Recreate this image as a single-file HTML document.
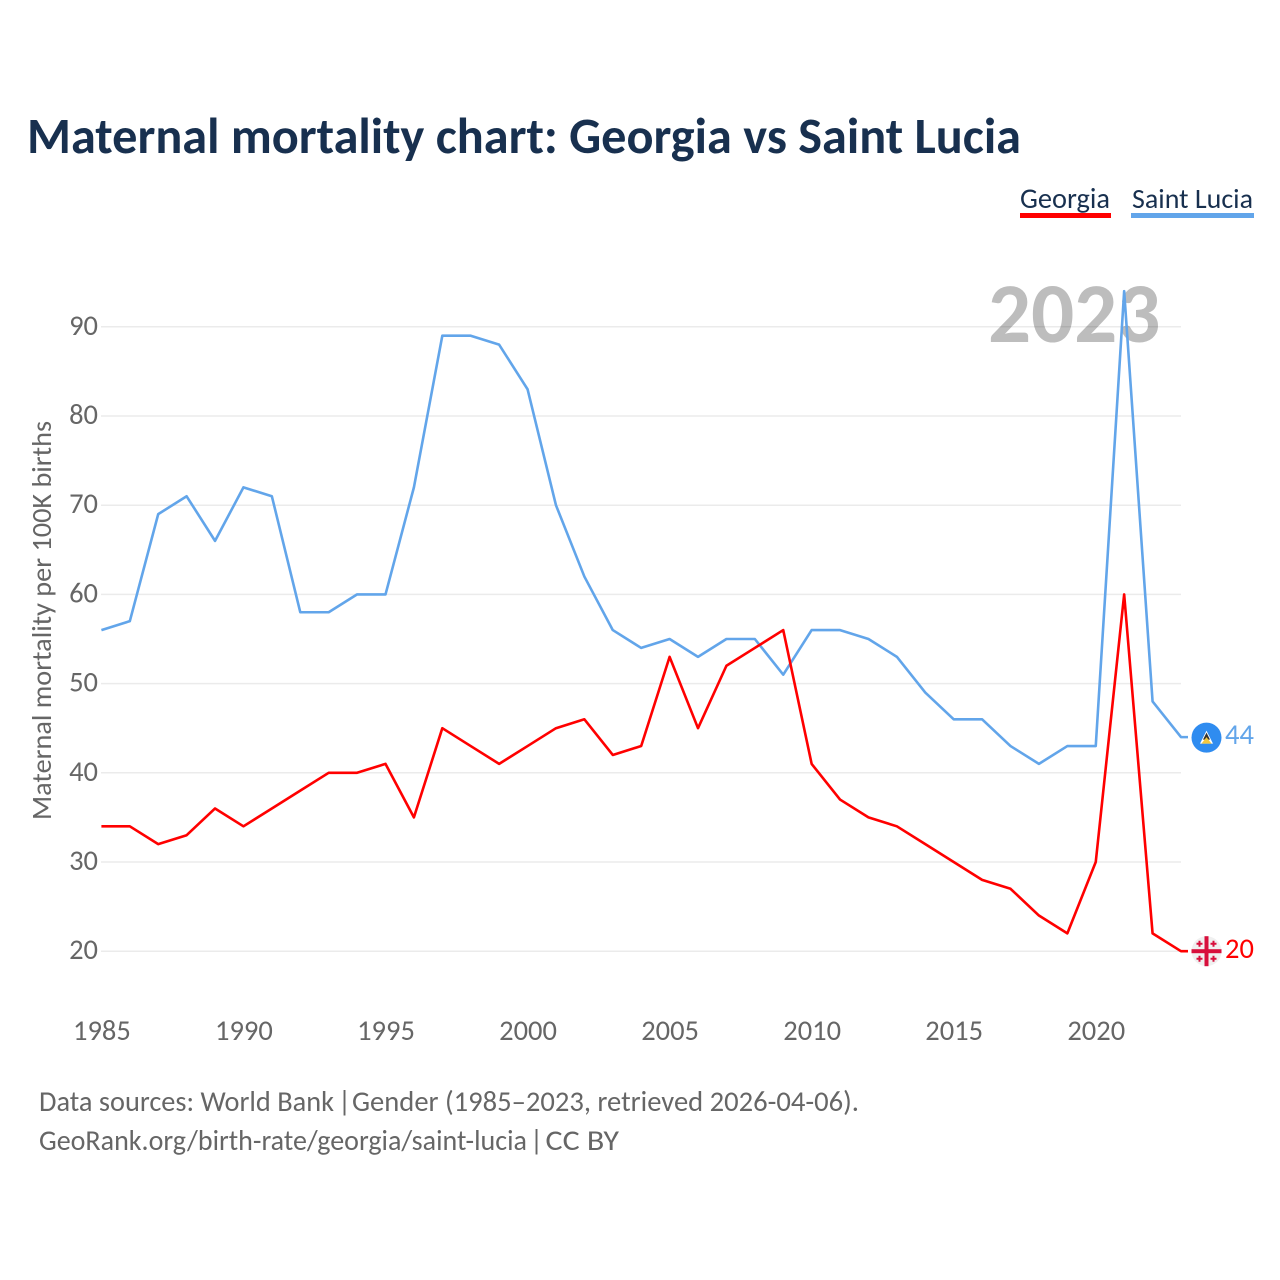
<!DOCTYPE html>
<html>
<head>
<meta charset="utf-8">
<style>
html,body{margin:0;padding:0;background:#fff;width:1280px;height:1280px;overflow:hidden}
svg{display:block}
text{font-family:"Carlito","Lato","Liberation Sans",sans-serif}
</style>
</head>
<body>
<svg id="chart" xmlns="http://www.w3.org/2000/svg" width="1280" height="1280" viewBox="0 0 1280 1280">
  <text x="27" y="153" font-size="50.3" font-weight="700" fill="#18304f" textLength="994" lengthAdjust="spacingAndGlyphs">Maternal mortality chart: Georgia vs Saint Lucia</text>
  <g>
    <g>
      <text x="1020" y="208" font-size="28.4" fill="#18304f" textLength="90" lengthAdjust="spacingAndGlyphs">Georgia</text>
      <rect x="1020" y="213" width="91" height="5" fill="#ff0000"/>
    </g>
    <g>
      <text x="1132" y="208" font-size="28" fill="#18304f" textLength="121" lengthAdjust="spacingAndGlyphs">Saint Lucia</text>
      <rect x="1131" y="213" width="123" height="5" fill="#62a5ea"/>
    </g>
  </g>
  <text x="988" y="342" font-size="85" font-weight="700" fill="#bdbdbd">2023</text>
  <g id="grid"></g>
  <g id="yticks"></g>
  <g id="xticks"></g>
  <text transform="translate(51,820) rotate(-90)" x="0" y="0" font-size="28.2" fill="#666666" textLength="399" lengthAdjust="spacingAndGlyphs">Maternal mortality per 100K births</text>
  <g id="series"></g>
  <g id="endpoints"></g>
  <g>
    <text y="1111" font-size="28.3" fill="#666666"><tspan x="39" textLength="295" lengthAdjust="spacingAndGlyphs">Data sources: World Bank</tspan> <tspan x="338">|</tspan> <tspan x="352" textLength="507" lengthAdjust="spacingAndGlyphs">Gender (1985–2023, retrieved 2026-04-06).</tspan></text>
    <text y="1150" font-size="28.3" fill="#666666"><tspan x="39" textLength="488" lengthAdjust="spacingAndGlyphs">GeoRank.org/birth-rate/georgia/saint-lucia</tspan> <tspan x="530">|</tspan> <tspan x="545.5" textLength="73.5" lengthAdjust="spacingAndGlyphs">CC BY</tspan></text>
  </g>
</svg>
<script>
const years = [1985,1986,1987,1988,1989,1990,1991,1992,1993,1994,1995,1996,1997,1998,1999,2000,2001,2002,2003,2004,2005,2006,2007,2008,2009,2010,2011,2012,2013,2014,2015,2016,2017,2018,2019,2020,2021,2022,2023];
const georgia = [34,34,32,33,36,34,36,38,40,40,41,35,45,43,41,43,45,46,42,43,53,45,52,54,56,41,37,35,34,32,30,28,27,24,22,30,60,22,20];
const saintLucia = [56,57,69,71,66,72,71,58,58,60,60,72,89,89,88,83,70,62,56,54,55,53,55,55,51,56,56,55,53,49,46,46,43,41,43,43,94,48,44];
const yTickValues = [20,30,40,50,60,70,80,90];
const xTickValues = [1985,1990,1995,2000,2005,2010,2015,2020];

const NS = 'http://www.w3.org/2000/svg';
const xScale = function (year) { return 101.4 + (year - 1985) * 28.41; };
const yScale = function (value) { return 951.2 - (value - 20) * 8.92; };
const make = function (tag, parent) {
  const el = document.createElementNS(NS, tag);
  parent.appendChild(el);
  return el;
};

const gridGroup = document.getElementById('grid');
const yGroup = document.getElementById('yticks');
yTickValues.forEach(function (v) {
  const line = make('line', gridGroup);
  
  
  line.setAttribute('x1', 101);
  line.setAttribute('x2', 1181);
  line.setAttribute('y1', yScale(v));
  line.setAttribute('y2', yScale(v));
  line.setAttribute('stroke', '#000000');
  line.setAttribute('stroke-opacity', 0.08);
  line.setAttribute('stroke-width', 1.5);
  const label = make('text', yGroup);
  
  
  label.setAttribute('x', 98);
  label.setAttribute('y', yScale(v) + 8);
  label.setAttribute('text-anchor', 'end');
  label.setAttribute('font-size', 28.5);
  label.setAttribute('fill', '#666666');
  label.textContent = v;
});

const xGroup = document.getElementById('xticks');
xTickValues.forEach(function (v) {
  const label = make('text', xGroup);
  
  
  label.setAttribute('x', xScale(v) + 0.5);
  label.setAttribute('y', 1040);
  label.setAttribute('text-anchor', 'middle');
  label.setAttribute('font-size', 28.5);
  label.setAttribute('fill', '#666666');
  label.textContent = v;
});

const lastIndex = years.length - 1;
const leadEndX = 1188;
const pathFor = function (values) {
  return values.map(function (v, i) {
    return (i ? 'L' : 'M') + xScale(years[i]).toFixed(2) + ' ' + yScale(v).toFixed(2);
  }).join(' ') + ' L' + leadEndX + ' ' + yScale(values[lastIndex]).toFixed(2);
};

const seriesGroup = document.getElementById('series');
const lucia = make('path', seriesGroup);


lucia.setAttribute('d', pathFor(saintLucia));
lucia.setAttribute('fill', 'none');
lucia.setAttribute('stroke', '#62a5ea');
lucia.setAttribute('stroke-width', 2.6);
lucia.setAttribute('stroke-linejoin', 'round');
const geo = make('path', seriesGroup);


geo.setAttribute('d', pathFor(georgia));
geo.setAttribute('fill', 'none');
geo.setAttribute('stroke', '#ff0000');
geo.setAttribute('stroke-width', 2.6);
geo.setAttribute('stroke-linejoin', 'round');

const endGroup = document.getElementById('endpoints');
const markerX = 1206.5;

/* Saint Lucia marker */
const ly = yScale(saintLucia[lastIndex]);
const lg = make('g', endGroup);


lg.setAttribute('transform', 'translate(' + markerX + ',' + (ly + 0.5) + ')');
lg.innerHTML = '<circle r="15" fill="#2f8cf0"/><polygon points="0,-7 6.5,6 -6.5,6" fill="#ffffff"/><polygon points="0,-5 3.5,2 -3.5,2" fill="#333333"/><polygon points="0,-0.5 5,6 -5,6" fill="#f5c83c"/>';
const lv = make('text', endGroup);


lv.setAttribute('x', 1225);
lv.setAttribute('y', ly + 7);
lv.setAttribute('font-size', 28.5);
lv.setAttribute('fill', '#62a5ea');
lv.textContent = saintLucia[lastIndex];

/* Georgia marker */
const gy = yScale(georgia[lastIndex]);
const gg = make('g', endGroup);


gg.setAttribute('transform', 'translate(' + markerX + ',' + gy + ')');
gg.innerHTML = '<circle r="15" fill="#f0f0f0"/><rect x="-2" y="-15" width="4" height="30" fill="#d80f3c"/><rect x="-15" y="-2" width="30" height="4" fill="#d80f3c"/>' +
  '<path d="M-7 -10.5v6M-10 -7.5h6M7 -10.5v6M4 -7.5h6M-7 4.5v6M-10 7.5h6M7 4.5v6M4 7.5h6" stroke="#d80f3c" stroke-width="2" fill="none"/>';
const gv = make('text', endGroup);


gv.setAttribute('x', 1225);
gv.setAttribute('y', gy + 7);
gv.setAttribute('font-size', 28.5);
gv.setAttribute('fill', '#ff0000');
gv.textContent = georgia[lastIndex];
</script>
</body>
</html>
